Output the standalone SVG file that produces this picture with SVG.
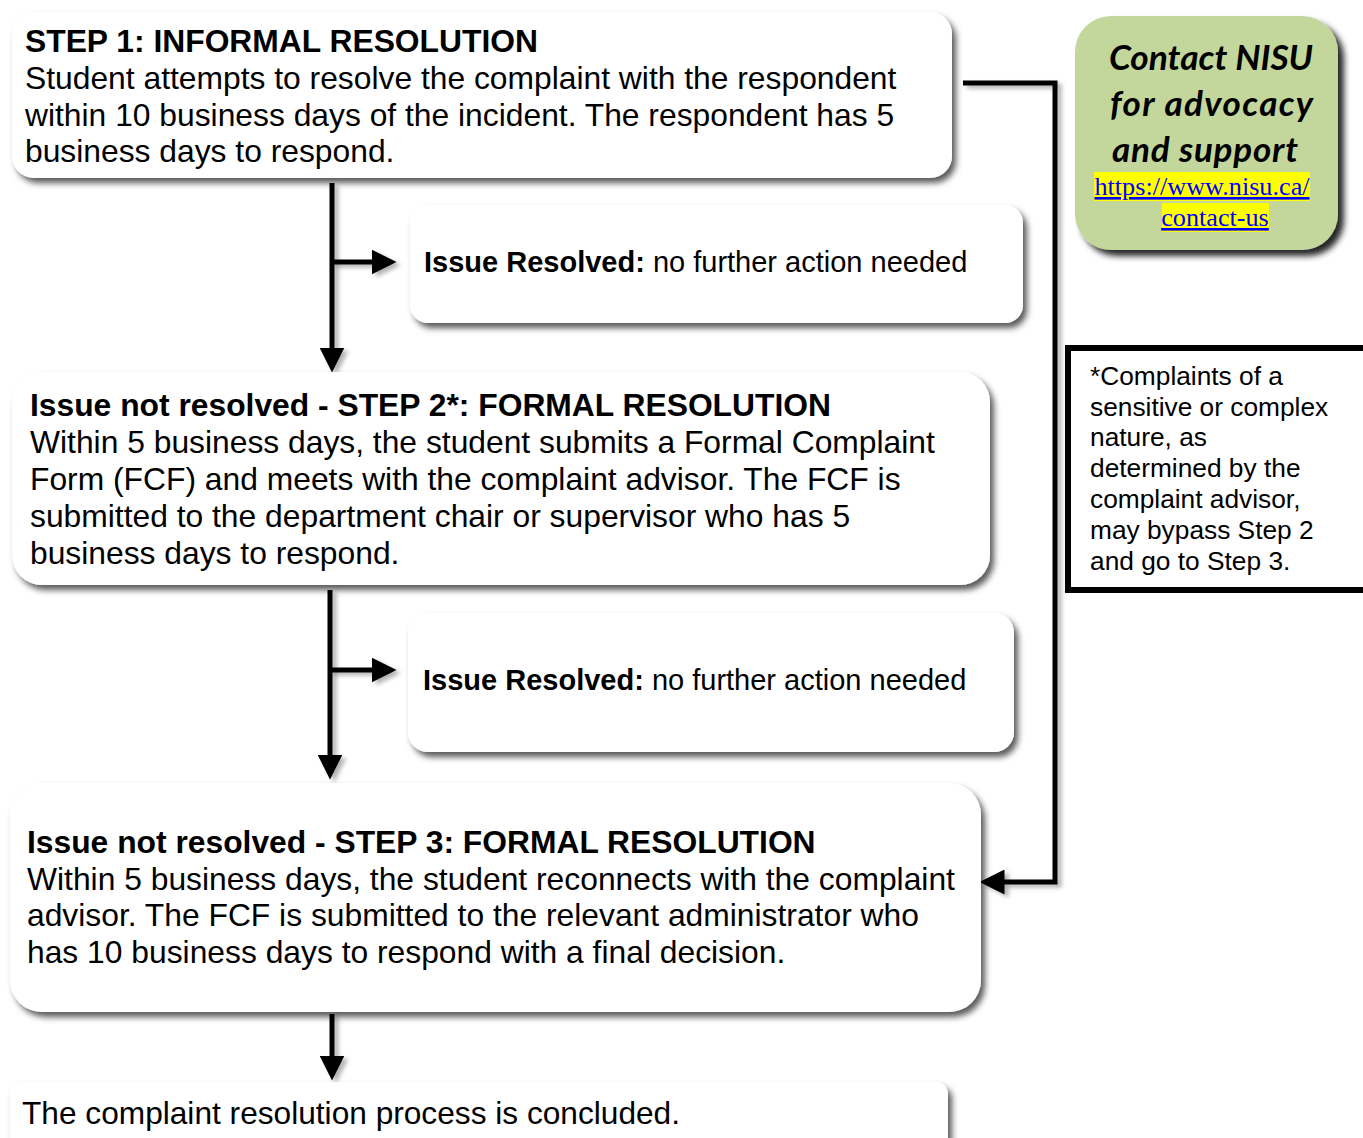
<svg xmlns="http://www.w3.org/2000/svg" width="1363" height="1138" viewBox="0 0 1363 1138">
<style>
.box{fill:#fff;filter:url(#sh)}
.t{font-family:"Liberation Sans",Arial,sans-serif;font-size:31.8px;fill:#000}
.b{font-weight:bold}
.r{font-family:"Liberation Sans",Arial,sans-serif;font-size:29px;fill:#000}
.n{font-family:"Liberation Sans",Arial,sans-serif;font-size:26.3px;fill:#000}
.g{font-family:Lato,"Open Sans",sans-serif;font-size:35px;font-weight:bold;font-style:italic;fill:#000}
.lk{font-family:"Liberation Serif","Times New Roman",serif;font-size:26.2px;fill:#0000ff;text-decoration:underline}
.c{fill:none;stroke:#000;stroke-width:5;filter:url(#lsh)}
</style>
<defs>
<filter id="sh" x="-5%" y="-10%" width="115%" height="130%">
<feDropShadow dx="4" dy="5" stdDeviation="3" flood-color="#000" flood-opacity="0.65"/>
</filter>
<filter id="gsh" x="-10%" y="-10%" width="125%" height="125%">
<feDropShadow dx="6" dy="6" stdDeviation="3" flood-color="#000" flood-opacity="0.85"/>
</filter>
<filter id="lsh" filterUnits="userSpaceOnUse" x="0" y="0" width="1363" height="1138">
<feDropShadow dx="4" dy="3" stdDeviation="2" flood-color="#000" flood-opacity="0.3"/>
</filter>
<marker id="ah" markerWidth="5" markerHeight="5" refX="0.5" refY="2.5" orient="auto" markerUnits="strokeWidth" viewBox="0 0 5 5">
<path d="M0,0 L5,2.5 L0,5 z" fill="#000"/>
</marker>
</defs>
<rect width="1363" height="1138" fill="#fff"/>

<g id="connectors">
<path class="c" d="M332,183 V350" marker-end="url(#ah)"/>
<path class="c" d="M332,262 H374" marker-end="url(#ah)"/>
<path class="c" d="M330,590 V757" marker-end="url(#ah)"/>
<path class="c" d="M330,670 H374" marker-end="url(#ah)"/>
<path class="c" d="M332,1014 V1058" marker-end="url(#ah)"/>
<path class="c" d="M963,83 H1055 V882 H1002" marker-end="url(#ah)"/>
</g>

<g id="step1">
<rect class="box" x="12" y="12" width="940" height="166" rx="22"/>
<text class="t b" x="25" y="52">STEP 1: INFORMAL RESOLUTION</text>
<text class="t" x="25" y="89">Student attempts to resolve the complaint with the respondent</text>
<text class="t" x="25" y="126">within 10 business days of the incident. The respondent has 5</text>
<text class="t" x="25" y="162">business days to respond.</text>
</g>

<g id="resolved1">
<rect class="box" x="410" y="205" width="613" height="118" rx="18"/>
<text class="r" x="424" y="272"><tspan class="b">Issue Resolved:</tspan> no further action needed</text>
</g>

<g id="step2">
<rect class="box" x="12" y="372" width="978" height="213" rx="30"/>
<text class="t b" x="30" y="416">Issue not resolved - STEP 2*: FORMAL RESOLUTION</text>
<text class="t" x="30" y="453">Within 5 business days, the student submits a Formal Complaint</text>
<text class="t" x="30" y="490">Form (FCF) and meets with the complaint advisor. The FCF is</text>
<text class="t" x="30" y="527">submitted to the department chair or supervisor who has 5</text>
<text class="t" x="30" y="564">business days to respond.</text>
</g>

<g id="resolved2">
<rect class="box" x="408" y="613" width="606" height="139" rx="20"/>
<text class="r" x="423" y="690"><tspan class="b">Issue Resolved:</tspan> no further action needed</text>
</g>

<g id="step3">
<rect class="box" x="10" y="783" width="971" height="229" rx="32"/>
<text class="t b" x="27" y="853">Issue not resolved - STEP 3: FORMAL RESOLUTION</text>
<text class="t" x="27" y="890">Within 5 business days, the student reconnects with the complaint</text>
<text class="t" x="27" y="926">advisor. The FCF is submitted to the relevant administrator who</text>
<text class="t" x="27" y="963">has 10 business days to respond with a final decision.</text>
</g>

<g id="concluded">
<rect class="box" x="10" y="1082" width="938" height="80" rx="12"/>
<text class="t" x="22" y="1124" textLength="658" lengthAdjust="spacingAndGlyphs">The complaint resolution process is concluded.</text>
</g>

<g id="contact">
<rect x="1075" y="16" width="263" height="234" rx="36" fill="#c3d69b" filter="url(#gsh)"/>
<text class="g" x="1109" y="70" textLength="204" lengthAdjust="spacingAndGlyphs">Contact NISU</text>
<text class="g" x="1110" y="116" textLength="203" lengthAdjust="spacing">for advocacy</text>
<text class="g" x="1112" y="162" textLength="186" lengthAdjust="spacing">and support</text>
<rect x="1094" y="172" width="216" height="29" fill="#ffff00"/>
<rect x="1162" y="203" width="107" height="29" fill="#ffff00"/>
<text class="lk" x="1202" y="195" text-anchor="middle">https://www.nisu.ca/</text>
<text class="lk" x="1215" y="226" text-anchor="middle">contact-us</text>
</g>

<g id="note">
<rect x="1068" y="348" width="300" height="242" fill="#fff" stroke="#000" stroke-width="6"/>
<text class="n" x="1090" y="385">*Complaints of a</text>
<text class="n" x="1090" y="416">sensitive or complex</text>
<text class="n" x="1090" y="446">nature, as</text>
<text class="n" x="1090" y="477">determined by the</text>
<text class="n" x="1090" y="508">complaint advisor,</text>
<text class="n" x="1090" y="539">may bypass Step 2</text>
<text class="n" x="1090" y="570">and go to Step 3.</text>
</g>
</svg>
